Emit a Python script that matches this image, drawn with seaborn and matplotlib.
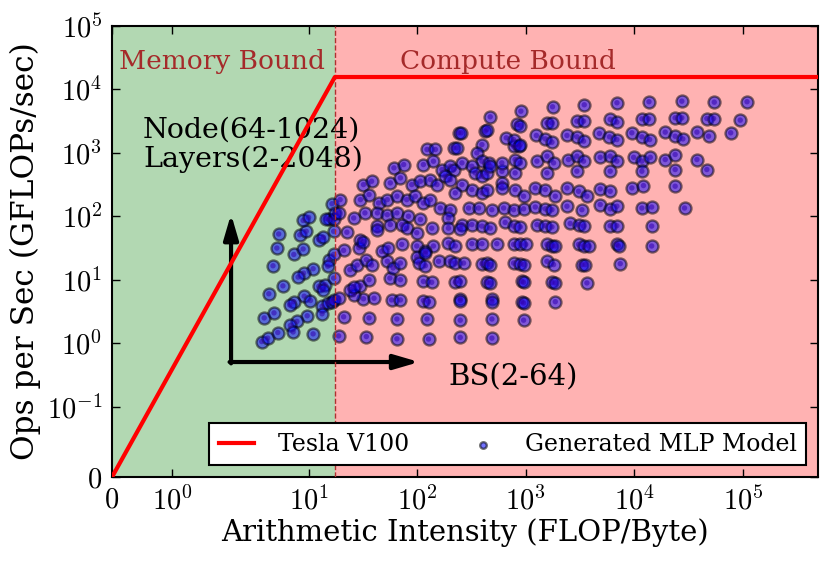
import numpy as np
import matplotlib
matplotlib.use("Agg")
import matplotlib.pyplot as plt
import matplotlib.ticker as mticker
from matplotlib.collections import PathCollection
import seaborn as sns

# roofline of the GPU
peak_gflops = 15700.0      # FP32 peak
bandwidth_gbs = 900.0      # HBM2 bandwidth
x_max = 4.9e5
y_max = 1e5

# generated MLP models, memory-bound part (x below the ridge)
mem_x = [3.7, 4.2, 5.2, 3.9, 4.8, 4.3, 5.8, 4.7, 5.1, 5.3,
         8.3, 9.5, 8.9, 10, 7.3, 8.9, 12.4, 13.7, 15.3, 14.5,
         16.4, 15.5, 15, 11, 9.0, 8.0, 12.4, 14.2, 13.5, 9.1,
         10.4, 7.3, 6.7, 13.3, 15, 16.4, 13.3, 9.7, 7.8, 6.8,
         7.2, 11, 17, 17, 17, 17, 17, 17.6]
mem_y = [1.06, 1.2, 1.47, 2.5, 3.0, 6.0, 8.0, 16.6, 31.6, 52.6,
         51, 58, 86, 96, 25, 30.5, 43, 46.6, 89, 92,
         158, 20.7, 16.3, 14.9, 12.7, 11, 7.85, 8.3, 7.0, 5.5,
         4.7, 4.5, 4.0, 3.8, 4.3, 4.5, 2.9, 2.7, 2.2, 1.9,
         1.5, 1.4, 10.6, 25, 58, 91, 4.8, 113]

# generated MLP models, compute-bound part
comp_x = [240, 254, 423, 438, 394, 123, 147, 216, 232, 354,
          394, 454, 602, 61, 75, 114, 141, 169, 201, 216,
          258, 318, 342, 394, 438, 470, 602, 32, 38, 56.5,
          70, 89, 107, 132, 152, 181, 201, 258, 224, 318,
          394, 438, 19.5, 30, 36, 44, 53, 65, 80, 96,
          114, 132, 163, 201, 297, 367, 486, 18.9, 26, 33,
          43, 53, 65, 83, 107, 194, 258, 43, 56.5, 72,
          18.9, 34, 65, 21, 36, 65, 18.9, 32, 40, 58,
          26, 24, 30, 26, 36, 56, 24, 28, 34, 38,
          53, 60, 21, 29, 47, 54, 22.5, 30, 32, 43,
          771, 860,
          470, 900, 1760, 3450, 6900, 13600, 27300, 54300, 108700,
          828, 889, 1563, 1738, 2950, 3400, 5980, 6890, 11700, 13500, 23700, 27300, 46400, 53600, 94200,
          661, 771, 889, 1250, 1510, 1740, 2390, 2950, 3400, 4760, 5890, 6890, 9460, 11700, 13800,
          19200, 23700, 27900, 37600, 48100, 76900,
          601, 797, 889, 1265, 1563, 1800, 2470, 2950, 3400, 4840, 5980, 6890, 9820, 11700, 14000,
          19200, 23700, 37600, 46400,
          797, 1563, 2950, 5980, 11700, 23700,
          601, 797, 953, 1222, 1510, 1867, 2390, 3055, 3650, 4840, 5980, 9460, 12100, 23700,
          624, 771, 953, 1222, 1510, 1740, 2390, 3280, 4840, 5980, 6890, 11700, 14400, 28900,
          80, 99, 136, 194, 249, 318, 394, 470, 645, 771,
          889, 1265, 1510, 1740, 2560, 3055, 3400, 5980, 6890, 14400,
          72, 99, 141, 194, 224, 318, 394, 540, 771, 889,
          1000, 1563, 1740, 1867, 3055, 3400, 3780, 6890, 7130, 14400, 119,
          70, 99, 103, 119, 157, 201, 224, 267, 394, 438,
          470, 771, 889, 953, 1563, 1800, 3280, 3520, 7400, 119,
          70, 114, 136, 224, 249, 438, 470, 919, 953, 1740, 1867, 3650,
          70, 114, 127, 249, 249, 487, 487, 919, 953, 1867,
          123, 249, 487, 953,
          127, 249, 487]
comp_y = [2070, 2070, 2200, 2335, 1350, 1130, 1130, 1200, 1200, 1000,
          738, 695, 513, 580, 654, 654, 738, 546, 615, 546,
          695, 615, 483, 428, 483, 615, 336, 316, 357, 336,
          403, 316, 357, 379, 316, 428, 379, 316, 234, 264,
          234, 264, 183, 183, 220, 162, 183, 207, 183, 207,
          162, 183, 135, 127, 135, 135, 127, 113, 94, 113,
          113, 106, 113, 100, 89, 94, 74, 70, 74, 74,
          1.3, 1.27, 1.17, 2.6, 2.5, 2.4, 5.1, 5.0, 5.1, 4.8,
          5.8, 7.0, 8.0, 7.8, 10, 10.6, 14.4, 17, 20.7, 17,
          19.5, 15.3, 29, 32, 28, 32, 56, 43, 40, 60,
          1270, 1270,
          3700, 4540, 5330, 5730, 6165, 6400, 6530, 6300, 6400,
          2800, 2700, 2976, 2976, 3160, 3160, 3360, 3050, 3440, 3440, 3570, 3570, 3480, 3480, 3280,
          1726, 1620, 1350, 1880, 1660, 1470, 1880, 1790, 1530, 2020, 1790, 1620, 2070, 1790, 1620,
          2120, 1830, 1660, 2120, 1830, 2070,
          695, 785, 695, 740, 886, 695, 785, 886, 740, 850, 886, 740, 850, 740, 850,
          785, 942, 785, 546,
          483, 483, 514, 514, 514, 546,
          280, 264, 207, 280, 264, 207, 280, 248, 207, 270, 248, 280, 305, 298,
          135, 127, 131, 140, 131, 127, 144, 127, 153, 131, 144, 135, 140, 135,
          65, 55, 65, 65, 63, 74, 70, 65, 80, 70,
          68, 74, 71, 68, 77, 74, 70, 71, 71, 70,
          36, 34, 34, 38, 34, 37, 37, 37, 36, 36,
          36, 36, 34, 34, 36, 34, 34, 36, 34, 34, 28,
          18.3, 23, 18.3, 16.6, 19.5, 19.5, 18.3, 18.3, 17.9, 18.3,
          17.3, 18.3, 17.9, 17.3, 19.5, 17.3, 17.3, 17.3, 17.9, 26,
          10, 9.4, 9.1, 9.1, 9.4, 9.1, 8.9, 9.4, 9.1, 9.1, 8.9, 8.9,
          4.8, 4.7, 4.5, 5.0, 4.7, 5.0, 4.5, 4.5, 4.3, 4.5,
          2.4, 2.3, 2.4, 2.3,
          1.16, 1.23, 1.2]

x_ticks = [0, 1, 10, 100, 1000, 1e4, 1e5]
x_tick_labels = ['$0$', '$10^{0}$', '$10^{1}$', '$10^{2}$', '$10^{3}$', '$10^{4}$', '$10^{5}$']
y_ticks = [0, 0.1, 1, 10, 100, 1000, 1e4, 1e5]
y_tick_labels = ['$0$', '$10^{-1}$', '$10^{0}$', '$10^{1}$', '$10^{2}$', '$10^{3}$', '$10^{4}$', '$10^{5}$']

plt.rcParams['font.family'] = ['DejaVu Serif']
plt.rcParams['mathtext.fontset'] = 'cm'

ridge = peak_gflops / bandwidth_gbs
roof_x = [0, ridge, x_max]
roof_y = [0, peak_gflops, peak_gflops]

pts_x = np.array(mem_x + comp_x)
pts_y = np.array(mem_y + comp_y)

fig = plt.figure(figsize=(8.31, 5.63), dpi=100)
ax = fig.add_axes([0.1348, 0.1527, 0.8496, 0.8011])

ax.axvspan(0, ridge, color='green', alpha=0.3, lw=0, zorder=0)
ax.axvspan(ridge, x_max, color='red', alpha=0.3, lw=0, zorder=0)
ax.axvline(ridge, color='#b03030', ls='--', lw=1, zorder=5)

# outer disc with dark rim + small inner dot
sns.scatterplot(x=pts_x, y=pts_y, ax=ax, color='blue', alpha=0.5,
                edgecolor='black', linewidth=1.7, s=74,
                label='Generated MLP Model', zorder=3)
sns.scatterplot(x=pts_x, y=pts_y, ax=ax, color='#3000b0', alpha=0.55,
                edgecolor='none', linewidth=0, s=15, zorder=3, legend=False)
ax.plot(roof_x, roof_y, color='red', lw=3, label='Tesla V100', zorder=6)

ax.set_xscale('symlog', linthresh=2, linscale=1)
ax.set_yscale('symlog', linthresh=0.1, linscale=1)
ax.set_xlim(0, x_max)
ax.set_ylim(0, y_max)
ax.set_xticks(x_ticks)
ax.set_xticklabels(x_tick_labels)
ax.set_yticks(y_ticks)
ax.set_yticklabels(y_tick_labels)
ax.xaxis.set_minor_locator(mticker.NullLocator())
ax.yaxis.set_minor_locator(mticker.NullLocator())
ax.tick_params(direction='in', top=True, right=True, length=6, width=1,
               labelsize=20.5, pad=7)

for sp in ax.spines.values():
    sp.set_linewidth(1.5)
    sp.set_color('black')

ax.set_xlabel('Arithmetic Intensity (FLOP/Byte)', fontsize=21, labelpad=2)
ax.set_ylabel('Ops per Sec (GFLOPs/sec)', fontsize=22.5, labelpad=4)

ax.text(0.01, 0.922, 'Memory Bound', transform=ax.transAxes, color='#a52a2a',
        fontsize=19, va='center', ha='left')
ax.text(0.408, 0.922, 'Compute Bound', transform=ax.transAxes, color='#a52a2a',
        fontsize=19, va='center', ha='left')
ax.text(0.044, 0.80, 'Node(64-1024)\nLayers(2-2048)', transform=ax.transAxes,
        fontsize=20.5, va='top', ha='left', linespacing=1.1, zorder=4)
ax.text(0.477, 0.22, 'BS(2-64)', transform=ax.transAxes, fontsize=21,
        va='center', ha='left')

arrow_style = dict(arrowstyle='-|>,head_length=0.75,head_width=0.22', lw=3,
                   color='black', mutation_scale=20, shrinkA=0, shrinkB=0)
ax.annotate('', xy=(0.1686, 0.583), xytext=(0.1686, 0.252),
            xycoords='axes fraction', textcoords='axes fraction', arrowprops=arrow_style)
ax.annotate('', xy=(0.435, 0.255), xytext=(0.1665, 0.255),
            xycoords='axes fraction', textcoords='axes fraction', arrowprops=arrow_style)

handles, labels = ax.get_legend_handles_labels()
order = [labels.index('Tesla V100'), labels.index('Generated MLP Model')]
leg = ax.legend([handles[i] for i in order], [labels[i] for i in order],
                loc='lower right', ncol=2, fontsize=17, fancybox=False,
                framealpha=1, edgecolor='black', markerscale=0.55,
                handlelength=1.5, handletextpad=1.0, columnspacing=2.4,
                borderaxespad=0.5, borderpad=0.4, scatterpoints=1)
leg.get_frame().set_linewidth(1.5)
for lh in leg.legend_handles:
    if isinstance(lh, PathCollection):
        lh.set_alpha(0.55)
    else:
        lh.set_alpha(1.0)

fig.savefig('out.png', dpi=100)
